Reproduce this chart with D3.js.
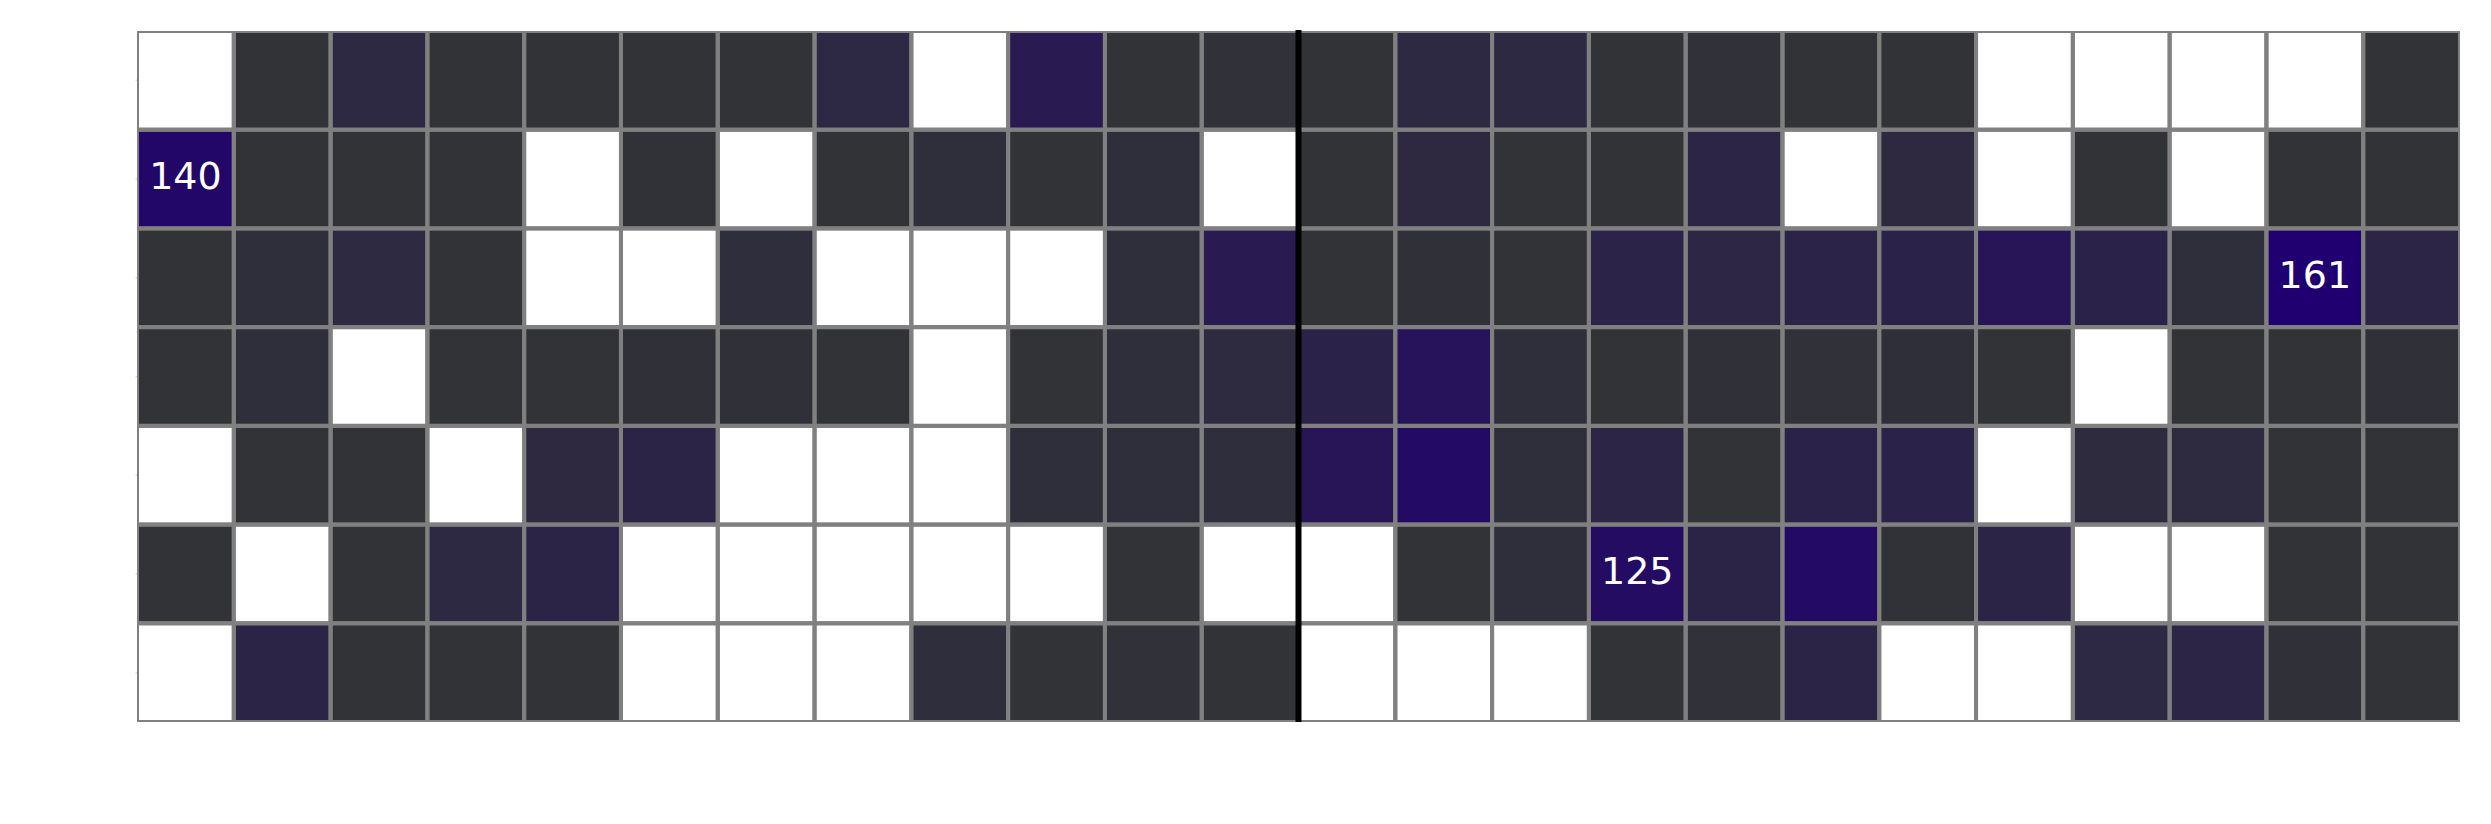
<!DOCTYPE html>
<html>
<head>
<meta charset="utf-8">
<script src="https://cdn.jsdelivr.net/npm/d3@7"></script>
<style>
  html, body { margin: 0; padding: 0; background: #ffffff; }
  svg { display: block; }
</style>
</head>
<body>
<svg id="chart" width="2491" height="824"></svg>
<script>
// Column categories (24) and row categories (7); tick labels are hidden in the reference
const columns = ["0","1","2","3","4","5","6","7","8","9","10","11","12","13","14","15","16","17","18","19","20","21","22","23"];
const rows = ["0","1","2","3","4","5","6"];

// Cell values per row (null = empty cell, drawn white)
const row0 = [null, 2, 35, 2, 2, 2, 4, 38, null, 80, 2, 10, 2, 35, 35, 2, 10, 2, 2, null, null, null, null, 2];
const row1 = [140, 2, 2, 2, null, 5, null, 2, 17, 2, 17, null, 2, 33, 2, 2, 45, null, 33, null, 4, null, 2, 2];
const row2 = [2, 17, 32, 2, null, null, 18, null, null, null, 17, 80, 2, 8, 2, 52, 42, 52, 55, 95, 55, 17, 161, 45];
const row3 = [2, 17, null, 2, 2, 8, 8, 2, null, 2, 17, 30, 55, 103, 17, 2, 12, 10, 15, 4, null, 2, 2, 8];
const row4 = [null, 2, 2, null, 33, 48, null, null, null, 17, 17, 19, 95, 130, 17, 45, 4, 55, 57, null, 28, 30, 2, 2];
const row5 = [2, null, 2, 35, 50, null, null, null, null, null, 2, null, null, 2, 17, 125, 48, 130, 6, 48, null, null, 2, 2];
const row6 = [null, 48, 2, 2, 2, null, null, null, 18, 4, 10, 2, null, null, null, 2, 10, 48, null, null, 38, 45, 8, 2];
const matrix = [row0, row1, row2, row3, row4, row5, row6];

// Cells carrying a value label: [rowIndex, columnIndex]
const annotated = [[1, 0], [2, 22], [5, 15]];
// Column boundary marked with a heavy divider (after this many columns)
const dividerAfter = 12;

const colorDomain = [0, 161];

const svg = d3.select("#chart");
const pLeft = 137, pRight = 2460, pTop = 31, pBottom = 722;

const x = d3.scaleBand().domain(columns).range([pLeft, pRight]).padding(0);
const y = d3.scaleBand().domain(rows).range([pTop, pBottom]).padding(0);
const color = d3.scaleLinear().domain(colorDomain).range(["#313435", "#200070"]).clamp(true);

const cells = [];
matrix.forEach((r, ri) => r.forEach((v, ci) => cells.push({ r: rows[ri], c: columns[ci], ri, ci, v })));

svg.append("defs").append("clipPath").attr("id", "plotclip")
  .append("rect").attr("x", pLeft).attr("y", pTop).attr("width", pRight - pLeft).attr("height", pBottom - pTop);

const g = svg.append("g").attr("clip-path", "url(#plotclip)");

// fills first
g.append("g").selectAll("rect").data(cells).join("rect")
  .attr("x", d => x(d.c))
  .attr("y", d => y(d.r))
  .attr("width", x.bandwidth())
  .attr("height", y.bandwidth())
  .attr("fill", d => d.v == null ? "#ffffff" : color(d.v));

// cell edges on top
g.append("g").selectAll("rect").data(cells).join("rect")
  .attr("x", d => x(d.c))
  .attr("y", d => y(d.r))
  .attr("width", x.bandwidth())
  .attr("height", y.bandwidth())
  .attr("fill", "none")
  .attr("stroke", "#808080")
  .attr("stroke-width", 4);

// Heavy divider line
const divX = x(columns[dividerAfter]);
svg.append("line")
  .attr("x1", divX).attr("x2", divX)
  .attr("y1", pTop - 1).attr("y2", pBottom)
  .attr("stroke", "#000000").attr("stroke-width", 6);

// Annotations
const annCells = annotated.map(([ri, ci]) => ({ r: rows[ri], c: columns[ci], v: matrix[ri][ci] }));
svg.selectAll("text.ann").data(annCells).join("text")
  .attr("class", "ann")
  .attr("x", d => x(d.c) + x.bandwidth() / 2)
  .attr("y", d => y(d.r) + y.bandwidth() / 2 + 10)
  .attr("text-anchor", "middle")
  .attr("font-family", "DejaVu Sans, sans-serif")
  .attr("font-size", 38)
  .attr("fill", "#ffffff")
  .text(d => d.v);

// Faint y-axis ticks (no labels)
const yAxis = d3.axisLeft(y).tickSize(1.5).tickFormat("");
const ya = svg.append("g").attr("transform", `translate(${pLeft},0)`).call(yAxis);
ya.select(".domain").remove();
ya.selectAll(".tick line").attr("stroke", "#dddddd").attr("stroke-width", 1.5);
</script>
</body>
</html>
